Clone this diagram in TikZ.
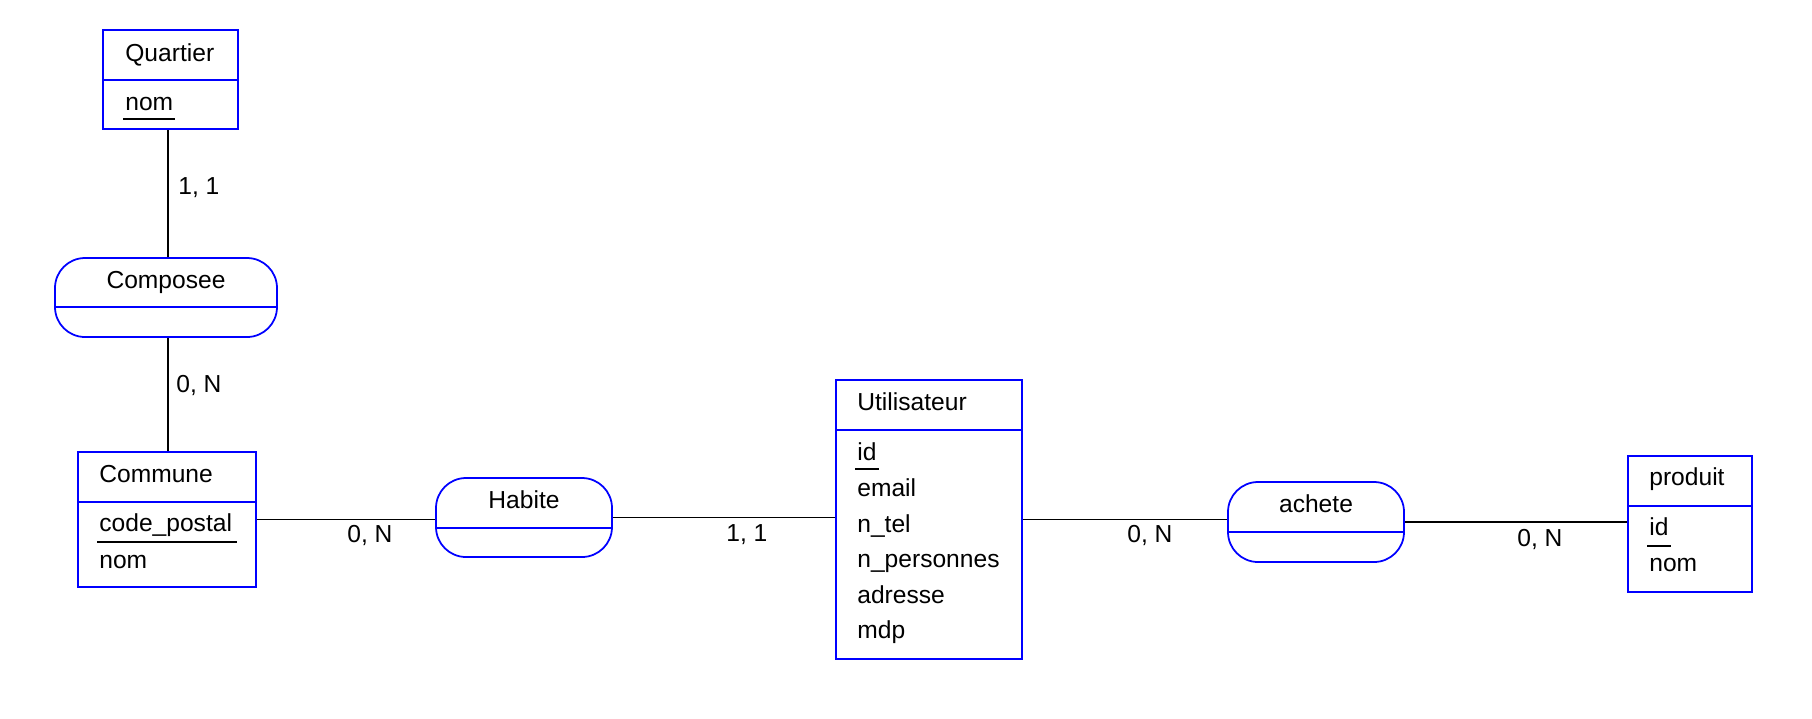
\documentclass[tikz,border=0pt]{standalone}
\usepackage{fontspec}
\setmainfont{Liberation Sans}
\usetikzlibrary{fit, calc}

\begin{document}
\begin{tikzpicture}[x=0.02cm, y=-0.02cm, font=\fontsize{14}{17}\selectfont,
	entity/.style={draw=blue, line width=1pt, inner sep=0pt},
	relation/.style={draw=blue, line width=1pt, inner sep=0pt, rounded corners=0.6cm},
	divider/.style={draw=blue, line width=1pt},
	txt/.style={anchor=base west, inner sep=0pt},
	title/.style={anchor=base, inner sep=0pt},
	link/.style={line width=1pt}]
	\useasboundingbox (0,0) rectangle (1812,718);

	% entities
	\node[entity, fit={(103,30) (238,129)}] (quartier) {};
	\node[entity, fit={(78,452) (256,587)}] (commune) {};
	\node[entity, fit={(836,380) (1022,659)}] (utilisateur) {};
	\node[entity, fit={(1628,456) (1752,592)}] (produit) {};
	\draw[divider] (quartier.west |- 0,80) -- (quartier.east |- 0,80);
	\draw[divider] (commune.west |- 0,502) -- (commune.east |- 0,502);
	\draw[divider] (utilisateur.west |- 0,430) -- (utilisateur.east |- 0,430);
	\draw[divider] (produit.west |- 0,506) -- (produit.east |- 0,506);

	\node[txt] (tquartier) at (125,61) {Quartier};
	\node[txt] (qnom) at (125,110) {nom};
		\draw[link] (123,119) -- (175,119);

	\node[txt] (tcommune) at (99,482) {Commune};
	\node[txt] (ccode) at (99,531) {code\_postal};
		\draw[link] (97,542) -- (237,542);
	\node[txt] (cnom) at (99,568) {nom};

	\node[txt] (tutilisateur) at (857,410) {Utilisateur};
	\node[txt] (uid) at (857,460) {id};
		\draw[link] (855,469) -- (879,469);
	\node[txt] (uemail) at (857,496) {email};
	\node[txt] (utel) at (857,532) {n\_tel};
	\node[txt] (upers) at (857,567) {n\_personnes};
	\node[txt] (uadr) at (857,603) {adresse};
	\node[txt] (umdp) at (857,638) {mdp};

	\node[txt] (tproduit) at (1649,485) {produit};
	\node[txt] (pid) at (1649,535) {id};
		\draw[link] (1647,546) -- (1671,546);
	\node[txt] (pnom) at (1649,571) {nom};

	% relations
	\node[relation, fit={(55,258) (277,337)}] (composee) {};
	\node[relation, fit={(436,478) (612,557)}] (habite) {};
	\node[relation, fit={(1228,482) (1404,562)}] (achete) {};
	\draw[divider] (composee.west |- 0,307) -- (composee.east |- 0,307);
	\draw[divider] (habite.west |- 0,528) -- (habite.east |- 0,528);
	\draw[divider] (achete.west |- 0,532) -- (achete.east |- 0,532);

	\node[title] (tcomposee) at (composee.north |- 0,288) {Composee};
	\node[title] (thabite) at (habite.north |- 0,508) {Habite};
	\node[title] (tachete) at (achete.north |- 0,512) {achete};

	% links
	\draw[link] (composee.north) ++(2,0) coordinate (qlink) -- (qlink |- quartier.south);
	\draw[link] (qlink |- composee.south) -- (qlink |- commune.north);
	\draw[link] (commune.east) -- (commune.east -| habite.west);
	\draw[link] (habite.east) -- (habite.east -| utilisateur.west);
	\draw[link] (utilisateur.east) -- (utilisateur.east -| achete.west);
	\draw[link] (achete.east) -- (achete.east -| produit.west);

	\node[txt] (card1) at (178,194) {1, 1};
	\node[txt] (card2) at (176,392) {0, N};
	\node[txt] (card3) at (347,542) {0, N};
	\node[txt] (card4) at (726,541) {1, 1};
	\node[txt] (card5) at (1127,542) {0, N};
	\node[txt] (card6) at (1517,546) {0, N};
\end{tikzpicture}
\end{document}
